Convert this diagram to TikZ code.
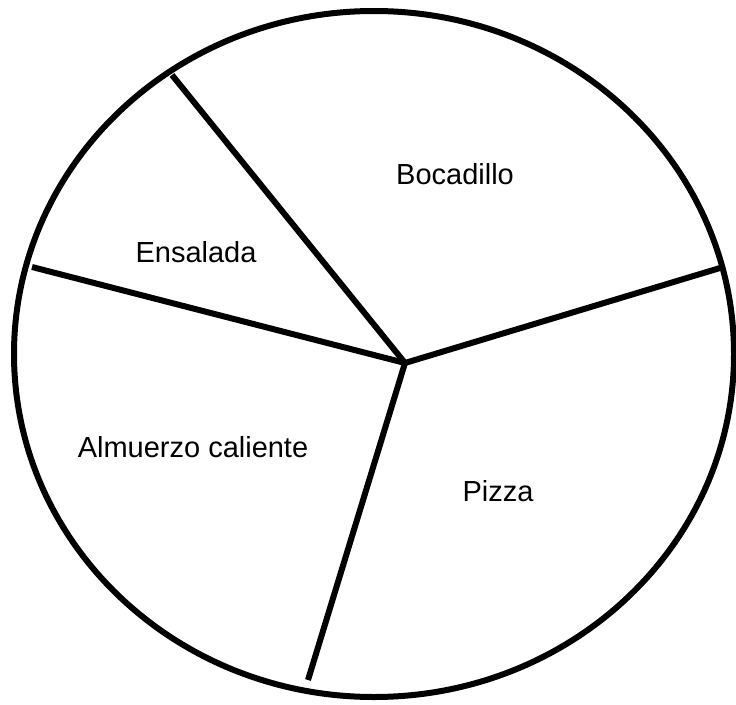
\documentclass[tikz,border=0pt]{standalone}
\usepackage{fontspec}
\setmainfont{Liberation Sans}
\begin{document}
\begin{tikzpicture}[x=1pt,y=-1pt,
  edge/.style={line width=6pt},
  lbl/.style={font=\fontsize{29}{34}\selectfont, inner sep=0pt}]
\useasboundingbox (0,0) rectangle (736,704);
\draw[edge] (374,354) ellipse [x radius=360, y radius=343];
\coordinate (c) at (405,363);
\coordinate (t) at (172,75);
\coordinate (l) at (32,267);
\coordinate (r) at (720,268);
\coordinate (b) at (308,680);
\draw[edge, line join=round] (t) -- (c) -- (r);
\draw[edge, line join=round] (l) -- (c) -- (b);
\node[lbl] (boc) at (455,174) {Bocadillo};
\node[lbl] (ens) at (196,252) {Ensalada};
\node[lbl] (alm) at (193,447) {Almuerzo caliente};
\node[lbl] (piz) at (498,491) {Pizza};
\end{tikzpicture}
\end{document}
